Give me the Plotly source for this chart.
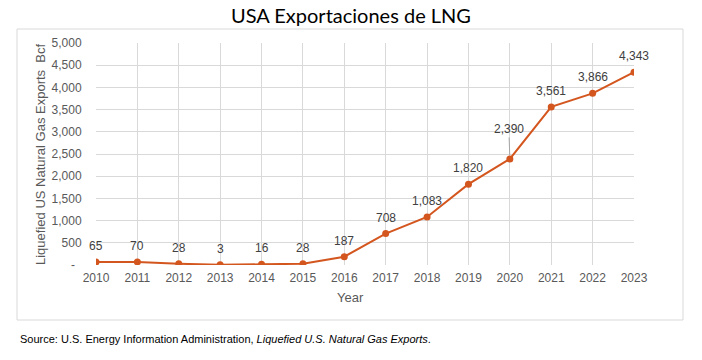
import plotly.graph_objects as go

years = [2010, 2011, 2012, 2013, 2014, 2015, 2016, 2017, 2018, 2019, 2020, 2021, 2022, 2023]
exports_bcf = [65, 70, 28, 3, 16, 28, 187, 708, 1083, 1820, 2390, 3561, 3866, 4343]
value_labels = ["65", "70", "28", "3", "16", "28", "187", "708", "1,083", "1,820", "2,390", "3,561", "3,866", "4,343"]
y_tickvals = [0, 500, 1000, 1500, 2000, 2500, 3000, 3500, 4000, 4500, 5000]
y_ticktext = ["-\u00a0\u00a0", "500", "1,000", "1,500", "2,000", "2,500", "3,000", "3,500", "4,000", "4,500", "5,000"]

ORANGE = "#D4561F"
GRID = "#D9D9D9"
TICK = "#595959"
FONT = "Liberation Sans, Arial, sans-serif"

W, H = 702, 360
L, R, T, B = 96, 634, 43, 265  # plot area in pixels

def px(x):
    return (x - L) / (R - L)

def py(y):
    return (B - y) / (B - T)

fig = go.Figure()
fig.add_trace(go.Scatter(
    x=years, y=exports_bcf, mode="lines+markers",
    line=dict(color=ORANGE, width=2),
    marker=dict(color=ORANGE, size=7),
    hoverinfo="skip", showlegend=False,
))

annotations = []
for yr, v, lab in zip(years, exports_bcf, value_labels):
    if yr == 2020:
        annotations.append(dict(
            x=yr, y=v, xref="x", yref="y", text=lab, showarrow=True,
            arrowhead=0, arrowwidth=1, arrowcolor="#A6A6A6",
            ax=-1, ay=-30, standoff=4,
            font=dict(family=FONT, size=12, color="#404040"),
        ))
    else:
        annotations.append(dict(
            x=yr, y=v, xref="x", yref="y", text=lab, showarrow=False,
            yshift=16, font=dict(family=FONT, size=12, color="#404040"),
        ))

annotations += [
    dict(x=px(40), y=py(155), xref="paper", yref="paper", showarrow=False,
         xanchor="center", yanchor="middle",
         text="Liquefied US Natural Gas Exports  Bcf", textangle=-90,
         font=dict(family=FONT, size=13, color=TICK)),
    dict(x=px(350), y=py(297), xref="paper", yref="paper", showarrow=False,
         xanchor="center", yanchor="middle",
         text="Year", font=dict(family=FONT, size=13, color=TICK)),
    dict(x=px(18), y=py(339), xref="paper", yref="paper", showarrow=False,
         xanchor="left", yanchor="middle",
         text="Source: U.S. Energy Information Administration, <i>Liquefied U.S. Natural Gas Exports</i>.",
         font=dict(family=FONT, size=11, color="#000000")),
]

fig.update_layout(
    width=W, height=H,
    margin=dict(l=L, r=W - R, t=T, b=H - B, pad=0, autoexpand=False),
    paper_bgcolor="white", plot_bgcolor="white",
    title=dict(text="USA Exportaciones de LNG", x=px(351), xref="paper",
               xanchor="center", y=1 - 16 / H, yref="container", yanchor="middle",
               font=dict(family="Lato, Open Sans, sans-serif", size=20, color="#000000")),
    xaxis=dict(range=[2010, 2023], tickvals=years, ticktext=[str(y) for y in years],
               showgrid=True, gridcolor=GRID, gridwidth=1, zeroline=False,
               showline=False, ticks="outside", ticklen=2, tickcolor="rgba(0,0,0,0)",
               tickfont=dict(family=FONT, size=12, color=TICK)),
    yaxis=dict(range=[0, 5000], tickvals=y_tickvals, ticktext=y_ticktext,
               showgrid=True, gridcolor=GRID, gridwidth=1, zeroline=False,
               showline=False, ticks="outside", ticklen=11, tickcolor="rgba(0,0,0,0)",
               tickfont=dict(family=FONT, size=12, color=TICK)),
    annotations=annotations,
    shapes=[dict(type="rect", xref="paper", yref="paper",
                 x0=px(17), x1=px(683), y0=py(320), y1=py(29),
                 line=dict(color="#D9D9D9", width=1), fillcolor="rgba(0,0,0,0)",
                 layer="below")],
)

fig.write_html("out.html", config={"displayModeBar": False},
               post_script="document.body.style.margin='0';document.body.style.padding='0';document.body.style.overflow='hidden';")
